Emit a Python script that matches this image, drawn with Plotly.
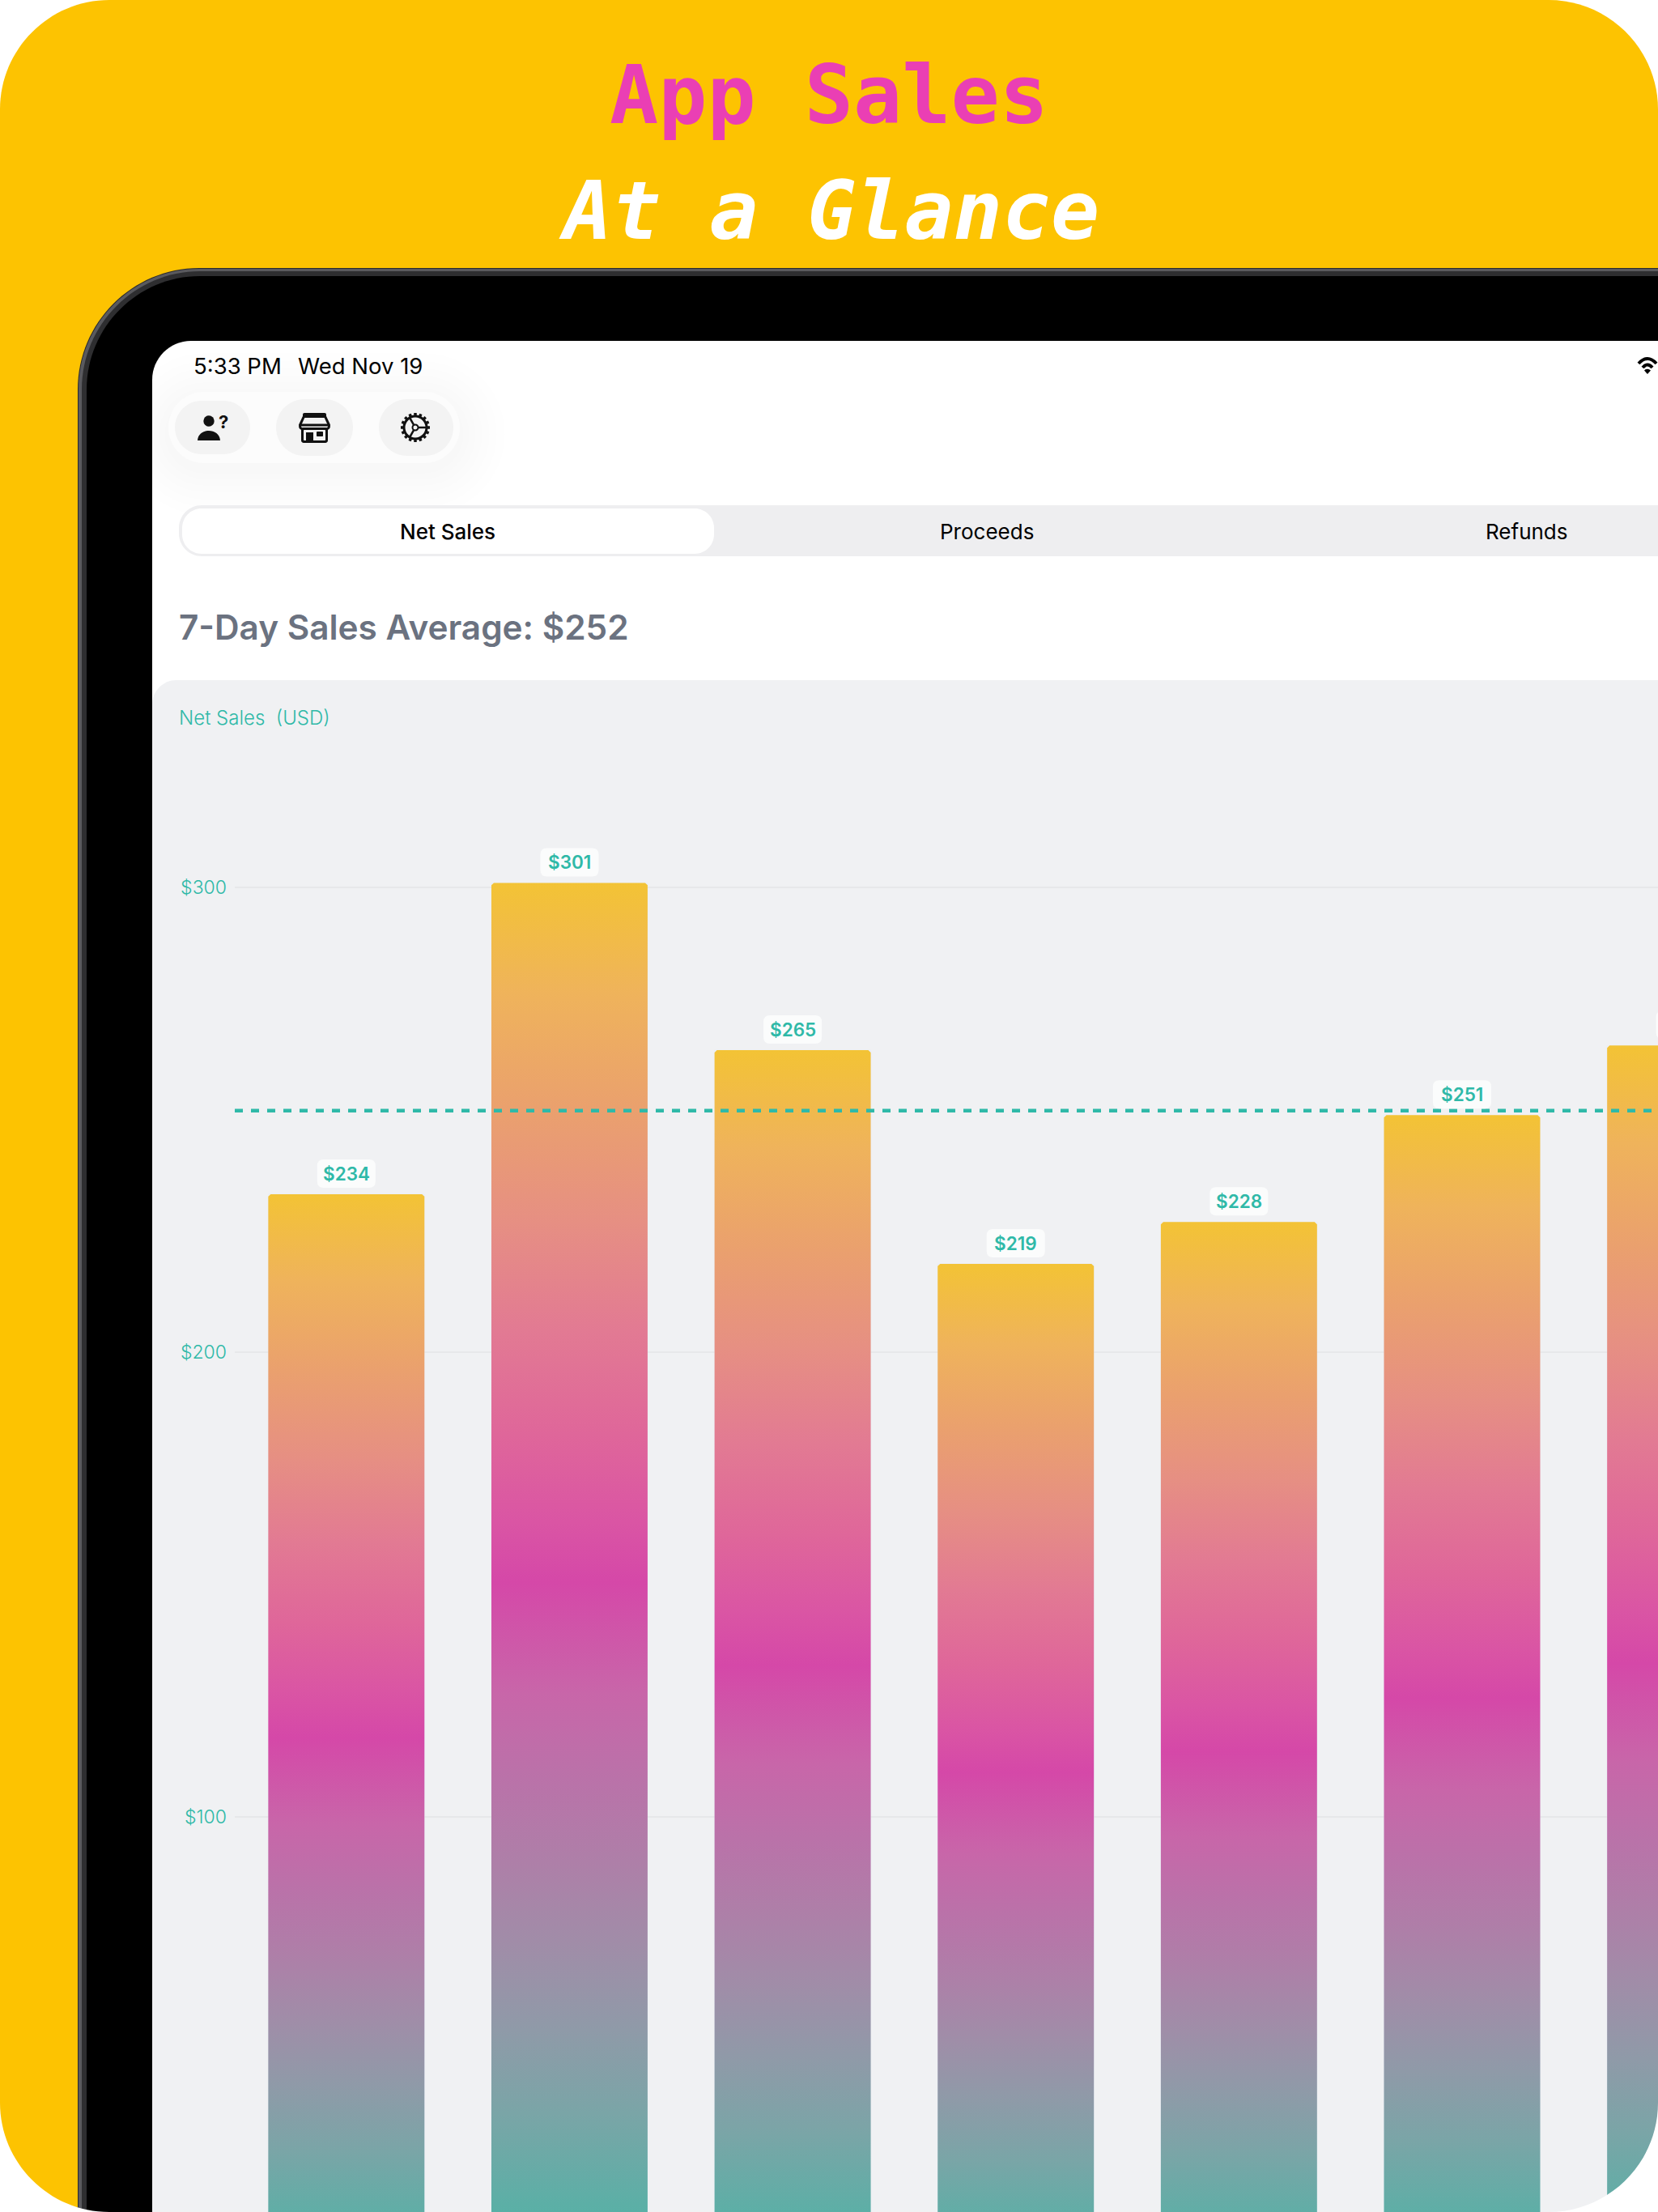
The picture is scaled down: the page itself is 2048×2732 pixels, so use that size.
# App Sales at a glance - iPad screenshot with the 7-day net sales chart

import math
import plotly.graph_objects as go

W, H = 2048, 2732

days = ['Nov 13', 'Nov 14', 'Nov 15', 'Nov 16', 'Nov 17', 'Nov 18', 'Nov 19']
net_sales = [234, 301, 265, 219, 228, 251, 266]
average_sales = 252
y_ticks = [100, 200, 300]
tab_labels = ['Net Sales', 'Proceeds', 'Refunds']

YELLOW = '#FDC301'
TEAL = '#2FB9A8'
PINK = '#EA3FB4'
PANEL = '#F0F1F3'
# from its foot up to its top
BAR_SCALE = [
    [0, '#49B4A5'], [0.055, '#5CAFA6'], [0.12, '#7AA5A7'], [0.18, '#8F9AA8'],
    [0.24, '#A08DA8'], [0.30, '#AE7FA8'], [0.36, '#BA72A9'], [0.42, '#C866A9'],
    [0.50, '#D548A8'], [0.543, '#DA55A4'], [0.605, '#DF669A'], [0.68, '#E27A93'],
    [0.757, '#E68F83'], [0.837, '#EAA06E'], [0.921, '#EFB35B'], [1, '#F3C335'],
]

BAR_WIDTH = 0.7
PLOT_LEFT = 290
PLOT_TOP = 900


def X(px):
    return px / W


def Y(py):
    return 1 - py / H


def rounded(x0, y0, x1, y1, r):
    """Path of a rounded rect in page pixels. r is one radius or (tl, tr, br, bl)."""
    tl, tr, br, bl = r if isinstance(r, tuple) else (r, r, r, r)
    k = 0.45
    pts = [
        f"M{X(x0 + tl)},{Y(y0)}", f"L{X(x1 - tr)},{Y(y0)}",
        f"C{X(x1 - tr * k)},{Y(y0)} {X(x1)},{Y(y0 + tr * k)} {X(x1)},{Y(y0 + tr)}",
        f"L{X(x1)},{Y(y1 - br)}",
        f"C{X(x1)},{Y(y1 - br * k)} {X(x1 - br * k)},{Y(y1)} {X(x1 - br)},{Y(y1)}",
        f"L{X(x0 + bl)},{Y(y1)}",
        f"C{X(x0 + bl * k)},{Y(y1)} {X(x0)},{Y(y1 - bl * k)} {X(x0)},{Y(y1 - bl)}",
        f"L{X(x0)},{Y(y0 + tl)}",
        f"C{X(x0)},{Y(y0 + tl * k)} {X(x0 + tl * k)},{Y(y0)} {X(x0 + tl)},{Y(y0)}", "Z",
    ]
    return ' '.join(pts)


def box(x0, y0, x1, y1, r, color, layer='below', opacity=1):
    return dict(type='path', path=rounded(x0, y0, x1, y1, r), xref='paper', yref='paper',
                fillcolor=color, line_width=0, layer=layer, opacity=opacity)


def stroke(path, width, color='#111111', layer='below'):
    return dict(type='path', path=path, xref='paper', yref='paper',
                line=dict(color=color, width=width), layer=layer)


def line(x0, y0, x1, y1, width, color='#111111'):
    return stroke(f"M{X(x0)},{Y(y0)} L{X(x1)},{Y(y1)}", width, color)


def circle(cx, cy, r, fill='#111111', line_color=None, width=0):
    return dict(type='circle', xref='paper', yref='paper',
                x0=X(cx - r), x1=X(cx + r), y0=Y(cy + r), y1=Y(cy - r),
                fillcolor=fill, line=dict(color=line_color or fill, width=width), layer='below')


def corner_mask(side):
    """White piece that cuts the rounded page corner at the bottom."""
    r = 135
    if side == 'left':
        path = (f"M0,{Y(H - r)} C0,{Y(H - r * 0.45)} {X(r * 0.45)},{Y(H)} {X(r)},{Y(H)} L0,{Y(H)} Z")
    else:
        path = (f"M1,{Y(H - r)} C1,{Y(H - r * 0.45)} {X(W - r * 0.45)},{Y(H)} {X(W - r)},{Y(H)} L1,{Y(H)} Z")
    return dict(type='path', path=path, xref='paper', yref='paper',
                fillcolor='white', line_width=0, layer='above')


def label(x, y, text, size, color, weight=400, anchor='left', family='Inter', style='normal'):
    return dict(xref='paper', yref='paper', x=X(x), y=Y(y), text=text, showarrow=False,
                xanchor=anchor, yanchor='middle', borderpad=0,
                font=dict(family=family, size=size, color=color, weight=weight, style=style))


def bar_outline(i, value):
    # polygon of one bar with slightly clipped top corners
    left, right = i - BAR_WIDTH / 2, i + BAR_WIDTH / 2
    dx, dy = 0.011, 0.5
    return ([left, left, left + dx, right - dx, right, right, left],
            [0, value - dy, value, value, value - dy, 0, 0])


def value_pill(i, value):
    # white rounded tag above a bar, sized in pixels and anchored to the data
    hw, bottom, top, r = 36, 8, 43, 8
    path = (f"M{-hw + r},{top} L{hw - r},{top} Q{hw},{top} {hw},{top - r} "
            f"L{hw},{bottom + r} Q{hw},{bottom} {hw - r},{bottom} "
            f"L{-hw + r},{bottom} Q{-hw},{bottom} {-hw},{bottom + r} "
            f"L{-hw},{top - r} Q{-hw},{top} {-hw + r},{top} Z")
    return dict(type='path', xref='x', yref='y', xsizemode='pixel', ysizemode='pixel',
                xanchor=i, yanchor=value, path=path, fillcolor='#FBFCFC', line_width=0, layer='above')


shapes = [
    box(0, 0, W, H, (135, 135, 0, 0), YELLOW),
    # device frame
    box(96, 331, W, H, (150, 0, 0, 0), '#2A2A2C'),
    box(97, 332, W, H, (149, 0, 0, 0), '#5A5A5E'),
    box(101, 335, W, H, (146, 0, 0, 0), '#2E2E30'),
    box(107, 341, W, H, (140, 0, 0, 0), '#000000'),
    box(188, 421, W, H, (48, 0, 0, 0), '#FFFFFF'),
]

# soft shadow round the toolbar
for grow in [56, 46, 37, 28, 20, 12, 5]:
    shapes.append(box(208 - grow, 484 + 8 - grow, 568 + grow, 572 + 8 + grow, 44 + grow, '#000000', opacity=0.0055))

shapes += [
    box(208, 484, 568, 572, 44, '#FCFCFC'),
    box(216, 495, 309, 561, 33, '#F3F3F3'),
    box(341, 493, 436, 563, 35, '#F3F3F3'),
    box(468, 493, 560, 563, 35, '#F3F3F3'),
    # person icon
    circle(258, 520, 6.7),
    dict(type='path', path=f"M{X(244)},{Y(544)} C{X(245)},{Y(528)} {X(271)},{Y(528)} {X(272)},{Y(544)} Z",
         xref='paper', yref='paper', fillcolor='#111111', line_width=0, layer='below'),
    # store icon
    box(374, 510, 403, 516, 2, '#111111'),
    stroke(f"M{X(376)},{Y(513)} L{X(370.5)},{Y(525)} Q{X(370)},{Y(530)} {X(375)},{Y(530)} "
           f"L{X(402)},{Y(530)} Q{X(407)},{Y(530)} {X(406.5)},{Y(525)} L{X(401)},{Y(513)}", 3),
    line(370, 525, 407, 525, 3),
    box(372, 528, 405, 547, 3, '#111111'),
    box(375, 531, 402, 544, 1, '#F3F3F3'),
    box(378, 534, 387, 546, 0, '#111111'),
    box(391, 533, 399, 539, 1, '#111111'),
    # wifi
    stroke(f"M{X(2024)},{Y(449)} Q{X(2035)},{Y(437)} {X(2046)},{Y(449)}", 4, '#000000'),
    stroke(f"M{X(2029)},{Y(454)} Q{X(2035)},{Y(447)} {X(2041)},{Y(454)}", 4, '#000000'),
    dict(type='path', path=f"M{X(2031)},{Y(457.5)} Q{X(2035)},{Y(454)} {X(2039)},{Y(457.5)} L{X(2035)},{Y(462)} Z",
         xref='paper', yref='paper', fillcolor='#000000', line_width=0, layer='below'),
    # tabs
    box(221, 624, W, 687, (28, 0, 0, 28), '#EEEEF0'),
    box(225, 628, 882, 684, 24, '#FFFFFF'),
    # chart panel
    box(188, 840, W, H, (30, 0, 0, 0), PANEL),
]

# gear icon
gear_x, gear_y = 513, 528
for n in range(16):
    a = 2 * math.pi * n / 16
    shapes.append(line(gear_x + 13 * math.cos(a), gear_y + 13 * math.sin(a),
                       gear_x + 18 * math.cos(a), gear_y + 18 * math.sin(a), 3.5))
shapes.append(circle(gear_x, gear_y, 14, fill='rgba(0,0,0,0)', line_color='#111111', width=3))
for a in [0, 120, 240]:
    rad = math.radians(a)
    shapes.append(line(gear_x + 4 * math.cos(rad), gear_y + 4 * math.sin(rad),
                       gear_x + 14 * math.cos(rad), gear_y + 14 * math.sin(rad), 2.5))
shapes.append(circle(gear_x, gear_y, 3.5, fill='#F3F3F3', line_color='#111111', width=2))

positions = list(range(len(days)))
shapes += [value_pill(i, v) for i, v in zip(positions, net_sales)]
shapes += [corner_mask('left'), corner_mask('right')]

annotations = [
    label(1024, 117, 'App Sales', 100, PINK, 700, 'center', 'DejaVu Sans Mono'),
    label(1024, 260, 'At a Glance', 100, '#FFFFFF', 700, 'center', 'DejaVu Sans Mono', 'italic'),
    label(238, 452, '5:33 PM', 27.5, '#000000'),
    label(367, 452, 'Wed Nov 19', 27.5, '#000000'),
    label(276, 521, '?', 22, '#111111', 700, 'center'),
    label(553, 656, tab_labels[0], 26, '#000000', 500, 'center'),
    label(1219, 656, tab_labels[1], 26, '#000000', 400, 'center'),
    label(1886, 656, tab_labels[2], 26, '#000000', 400, 'center'),
    label(220, 774, f'7-Day Sales Average: ${average_sales}', 42.3, '#6B7280', 600),
    label(220, 887, 'Net Sales\u00a0\u00a0(USD)', 24, TEAL, 300),
]
for i, v in zip(positions, net_sales):
    annotations.append(dict(x=i, y=v, xref='x', yref='y', text=f'${v}', showarrow=False, yshift=25.5,
                            font=dict(family='Inter', size=22.5, color=TEAL, weight=600)))

fig = go.Figure()

fig.add_trace(go.Bar(x=positions, y=net_sales, width=BAR_WIDTH, marker_color='rgba(0,0,0,0)',
                     customdata=days, hovertemplate='%{customdata}: $%{y}<extra></extra>'))

for i, v in zip(positions, net_sales):
    xs, ys = bar_outline(i, v)
    fig.add_trace(go.Scatter(
        x=xs, y=ys, mode='lines', line_width=0, fill='toself', hoverinfo='skip',
        fillgradient=dict(type='vertical', colorscale=BAR_SCALE, start=0, stop=v)
    ))

fig.add_trace(go.Scatter(
    x=[-0.5, 5.88], y=[average_sales, average_sales], mode='lines', hoverinfo='skip',
    line=dict(color=TEAL, width=4.5, dash='10px,10px')
))

fig.update_layout(
    width=W, height=H, autosize=False, showlegend=False,
    margin=dict(l=0, r=0, t=0, b=0, pad=0),
    paper_bgcolor='white', plot_bgcolor='rgba(0,0,0,0)',
    shapes=shapes, annotations=annotations
)
fig.update_xaxes(domain=[PLOT_LEFT / W, 1], range=[-0.5, 5.878], showgrid=False, zeroline=False,
                 showticklabels=False, ticks='', tickvals=positions, ticktext=days)
fig.update_yaxes(domain=[0, 1 - PLOT_TOP / H], range=[14.9, 334.2],
                 tickvals=y_ticks, ticktext=[f'${t}' for t in y_ticks],
                 gridcolor='#E7E8EA', gridwidth=1.5, zeroline=False, ticks='', ticklabelstandoff=9,
                 tickfont=dict(family='Inter', size=23, color=TEAL, weight=300))

fig.write_html('out.html', config=dict(displayModeBar=False),
               post_script="document.body.style.margin='0';")
